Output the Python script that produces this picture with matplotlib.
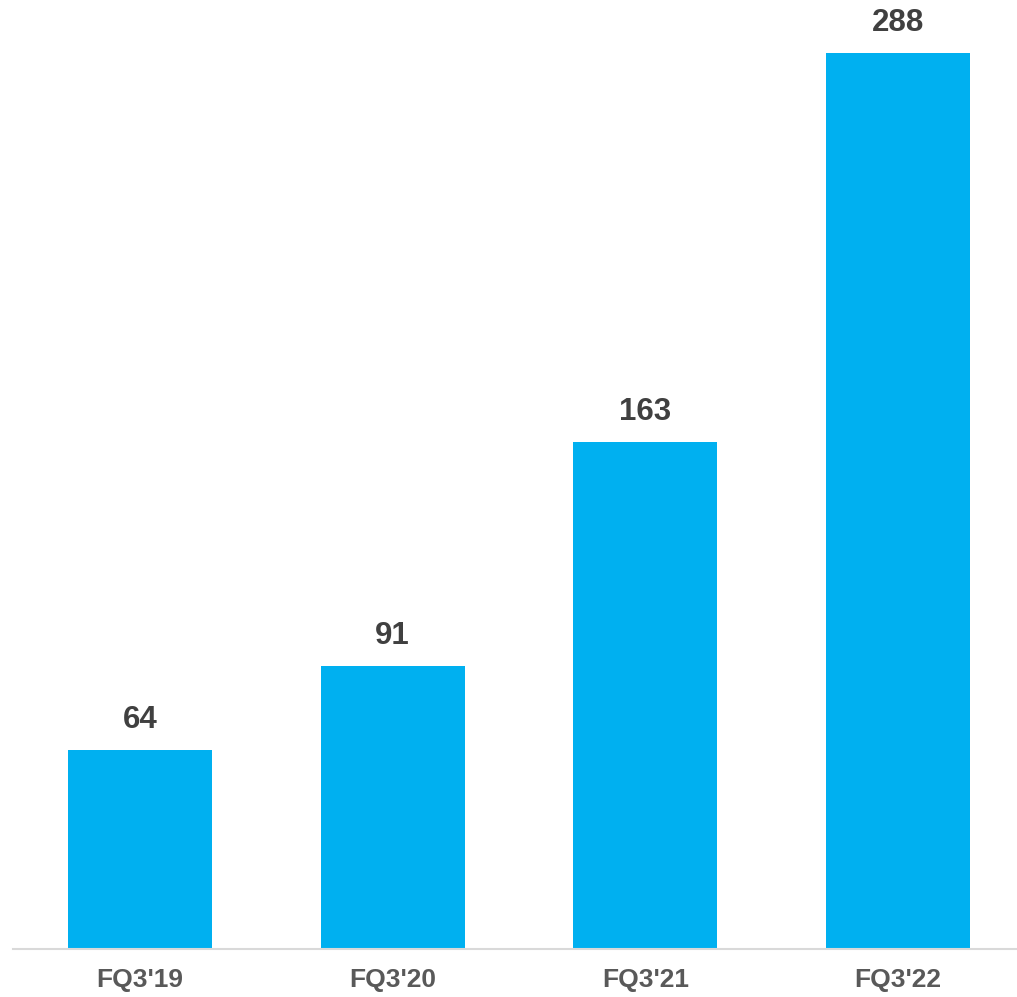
import matplotlib
matplotlib.use("Agg")
import matplotlib.pyplot as plt

categories = ["FQ3'19", "FQ3'20", "FQ3'21", "FQ3'22"]
values = [64, 91, 163, 288]

plt.rcParams['font.family'] = ['Liberation Sans', 'DejaVu Sans']

fig = plt.figure(figsize=(10.17, 9.97), dpi=100)
ax = fig.add_axes([13/1017, 48/997, 1 - 13/1017, 949/997])

x = list(range(len(categories)))
bars = ax.bar(x, values, width=0.57, color="#00B0F0", zorder=2)

for xi, v in zip(x, values):
    ax.annotate(str(v), (xi, v), xytext=(0, 11), textcoords="offset points",
                ha="center", va="bottom", fontsize=22.5, fontweight="bold", color="#404040")

ax.set_xlim(-0.502, 3.47)
ax.set_ylim(0, 305)
ax.set_xticks(x)
ax.set_xticklabels(categories, fontsize=19, fontweight="bold", color="#595959")
ax.tick_params(axis='x', length=0, pad=14)
ax.set_yticks([])
for s in ["top", "right", "left"]:
    ax.spines[s].set_visible(False)
ax.spines["bottom"].set_color("#D9D9D9")
ax.spines["bottom"].set_linewidth(1.5)

fig.savefig("out.png", dpi=100)
